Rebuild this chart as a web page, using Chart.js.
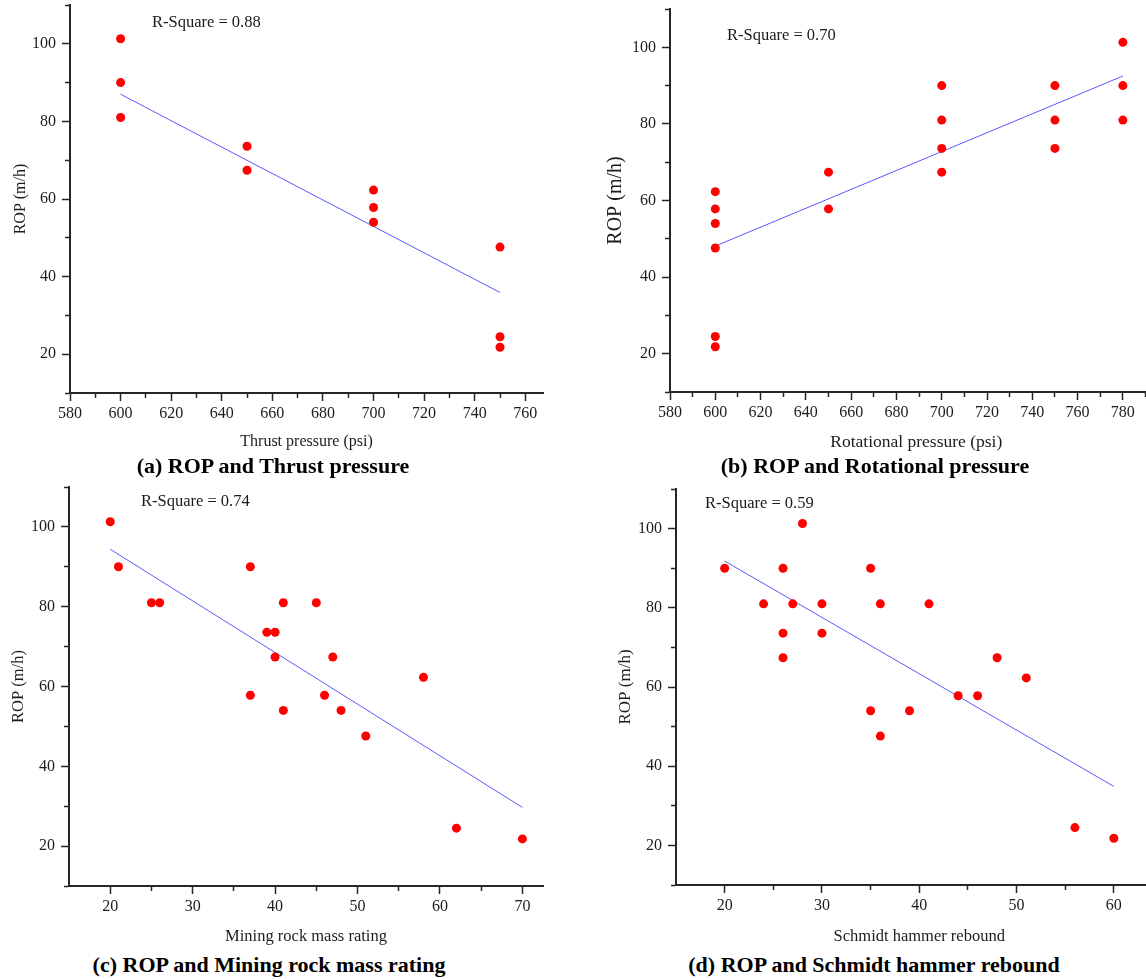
<!DOCTYPE html>
<html>
<head>
<meta charset="utf-8">
<script src="https://cdn.jsdelivr.net/npm/chart.js@4.4.1/dist/chart.umd.min.js"></script>
<style>
  html, body { margin: 0; padding: 0; background: #fff; }
  body { width: 1146px; height: 979px; position: relative; overflow: hidden;
         font-family: "Liberation Serif", "Times New Roman", serif; color: #111; }
  canvas { position: absolute; }
  .cap { position: absolute; font-weight: bold; font-size: 22px; line-height: 1;
         white-space: nowrap; transform: translate(-50%, -50%); color: #000; }
  .rsq { position: absolute; font-size: 16.5px; line-height: 1; white-space: nowrap;
         transform: translateY(-50%); color: #1a1a1a; }
</style>
</head>
<body>
<canvas id="chartA" width="573" height="460" style="left:0;top:0"></canvas>
<canvas id="chartB" width="594" height="460" style="left:573px;top:0"></canvas>
<canvas id="chartC" width="573" height="470" style="left:0;top:480px"></canvas>
<canvas id="chartD" width="594" height="470" style="left:573px;top:480px"></canvas>

<div class="rsq" style="left:152px;top:22px">R-Square = 0.88</div>
<div class="rsq" style="left:727px;top:35px">R-Square = 0.70</div>
<div class="rsq" style="left:141px;top:501px">R-Square = 0.74</div>
<div class="rsq" style="left:705px;top:503px">R-Square = 0.59</div>

<div class="cap" style="left:273px;top:466px">(a) ROP and Thrust pressure</div>
<div class="cap" style="left:875px;top:466px">(b) ROP and Rotational pressure</div>
<div class="cap" style="left:269px;top:965px">(c) ROP and Mining rock mass rating</div>
<div class="cap" style="left:874px;top:965px">(d) ROP and Schmidt hammer rebound</div>

<script>
// (a) thrust pressure vs ROP
const thrustX = [600, 600, 600, 650, 650, 700, 700, 700, 750, 750, 750];
const thrustY = [101.3, 90, 81, 73.6, 67.4, 62.3, 57.8, 54, 47.6, 24.5, 21.8];
const thrustFitX = [600, 750];
const thrustFitY = [87.0, 35.9];

// (b) rotational pressure vs ROP
const rotX = [600, 600, 600, 600, 600, 600, 650, 650, 700, 700, 700, 700, 750, 750, 750, 780, 780, 780];
const rotY = [62.3, 57.8, 54, 47.6, 24.5, 21.8, 67.4, 57.8, 90, 81, 73.6, 67.4, 90, 81, 73.6, 101.3, 90, 81];
const rotFitX = [600, 780];
const rotFitY = [48.1, 92.5];

// (c) mining rock mass rating vs ROP
const rmrX = [20, 21, 25, 26, 37, 39, 40, 40, 41, 45, 47, 37, 41, 46, 48, 51, 58, 62, 70];
const rmrY = [101.3, 90, 81, 81, 90, 73.6, 73.6, 67.4, 81, 81, 67.4, 57.8, 54, 57.8, 54, 47.6, 62.3, 24.5, 21.8];
const rmrFitX = [20, 70];
const rmrFitY = [94.4, 29.7];

// (d) schmidt hammer rebound vs ROP
const shrX = [20, 24, 26, 26, 26, 27, 28, 30, 30, 35, 35, 36, 36, 39, 41, 44, 46, 48, 51, 56, 60];
const shrY = [90, 81, 90, 73.6, 67.4, 81, 101.3, 81, 73.6, 90, 54, 81, 47.6, 54, 81, 57.8, 57.8, 67.4, 62.3, 24.5, 21.8];
const shrFitX = [20, 60];
const shrFitY = [91.8, 34.9];

// tick labels
const ropMajor = [20, 40, 60, 80, 100];
const ropMinor = [10, 30, 50, 70, 90, 110];
const thrustMajor = [580, 600, 620, 640, 660, 680, 700, 720, 740, 760];
const thrustMinor = [590, 610, 630, 650, 670, 690, 710, 730, 750];
const rotMajor = [580, 600, 620, 640, 660, 680, 700, 720, 740, 760, 780];
const rotMinor = [590, 610, 630, 650, 670, 690, 710, 730, 750, 770, 790];
const rmrMajor = [20, 30, 40, 50, 60, 70];
const rmrMinor = [25, 35, 45, 55, 65];
const shrMajor = [20, 30, 40, 50, 60];
const shrMinor = [25, 35, 45, 55];

const ink = '#1c1c1c';
const axisInk = '#262626';
const serif = "'Liberation Serif', 'Times New Roman', serif";
Chart.defaults.font.family = serif;

function axisOpts(o) {
    const all = o.major.concat(o.minor).sort((a, b) => a - b);
    return {
        type: 'linear',
        min: o.min,
        max: o.max,
        afterBuildTicks: s => { s.ticks = all.map(v => ({ value: v })); },
        afterFit: s => {
            if (o.horizontal) s.height = o.size; else s.width = o.size;
            s.paddingTop = 0; s.paddingBottom = 0; s.paddingLeft = 0; s.paddingRight = 0;
        },
        border: { display: true, color: axisInk, width: 2 },
        grid: {
            drawOnChartArea: false,
            drawTicks: true,
            tickLength: 8,
            tickColor: axisInk,
            tickWidth: 1.5,
            tickBorderDash: c => (c.tick && o.major.includes(c.tick.value)) ? [] : (o.horizontal ? [4, 100] : [0, 3, 4, 100])
        },
        ticks: {
            autoSkip: false,
            maxRotation: 0,
            padding: o.horizontal ? 3 : 6,
            color: ink,
            font: { family: serif, size: 16 },
            callback: v => o.major.includes(v) ? String(v) : ''
        },
        title: {
            display: true,
            text: o.title,
            color: ink,
            font: { family: serif, size: o.titleSize },
            padding: o.titlePad
        }
    };
}

function scatterChart(id, p) {
    const pts = p.x.map((v, i) => ({ x: v, y: p.y[i] }));
    const fit = p.fitX.map((v, i) => ({ x: v, y: p.fitY[i] }));
    return new Chart(document.getElementById(id), {
        type: 'scatter',
        data: {
            datasets: [
                { data: pts, backgroundColor: '#ff0000', borderWidth: 0, pointRadius: 4.5, order: 1 },
                { data: fit, showLine: true, borderColor: '#5959ff', borderWidth: 1, pointRadius: 0, fill: false, order: 2 }
            ]
        },
        options: {
            responsive: false,
            animation: false,
            layout: { padding: p.pad },
            plugins: { legend: { display: false }, tooltip: { enabled: false } },
            scales: {
                x: axisOpts(Object.assign({ horizontal: true }, p.xAxis)),
                y: axisOpts(Object.assign({ horizontal: false, min: 10, max: 110, major: ropMajor, minor: ropMinor }, p.yAxis))
            }
        }
    });
}

scatterChart('chartA', {
    x: thrustX, y: thrustY, fitX: thrustFitX, fitY: thrustFitY,
    pad: { top: 5, left: 0, right: 30, bottom: 0 },
    xAxis: { min: 580, max: 767, major: thrustMajor, minor: thrustMinor, size: 67,
             title: 'Thrust pressure (psi)', titleSize: 16, titlePad: { top: 0, bottom: 8.4 } },
    yAxis: { size: 70, title: 'ROP (m/h)', titleSize: 16, titlePad: { top: 11.4, bottom: 0 } }
});

scatterChart('chartB', {
    x: rotX, y: rotY, fitX: rotFitX, fitY: rotFitY,
    pad: { top: 9, left: 0, right: 0, bottom: 0 },
    xAxis: { min: 580, max: 797.5, major: rotMajor, minor: rotMinor, size: 68,
             title: 'Rotational pressure (psi)', titleSize: 17.5, titlePad: { top: 0, bottom: 7.5 } },
    yAxis: { size: 97, title: 'ROP (m/h)', titleSize: 20, titlePad: { top: 31, bottom: 0 } }
});

scatterChart('chartC', {
    x: rmrX, y: rmrY, fitX: rmrFitX, fitY: rmrFitY,
    pad: { top: 7, left: 0, right: 30, bottom: 0 },
    xAxis: { min: 15, max: 72.5, major: rmrMajor, minor: rmrMinor, size: 64,
             title: 'Mining rock mass rating', titleSize: 16.5, titlePad: { top: 0, bottom: 3.1 } },
    yAxis: { size: 69, title: 'ROP (m/h)', titleSize: 16.5, titlePad: { top: 9.1, bottom: 0 } }
});

scatterChart('chartD', {
    x: shrX, y: shrY, fitX: shrFitX, fitY: shrFitY,
    pad: { top: 9, left: 0, right: 0, bottom: 0 },
    xAxis: { min: 15, max: 65, major: shrMajor, minor: shrMinor, size: 65,
             title: 'Schmidt hammer rebound', titleSize: 16.5, titlePad: { top: 0, bottom: 3.1 } },
    yAxis: { size: 103, title: 'ROP (m/h)', titleSize: 17, titlePad: { top: 42.8, bottom: 0 } }
});
</script>
</body>
</html>
